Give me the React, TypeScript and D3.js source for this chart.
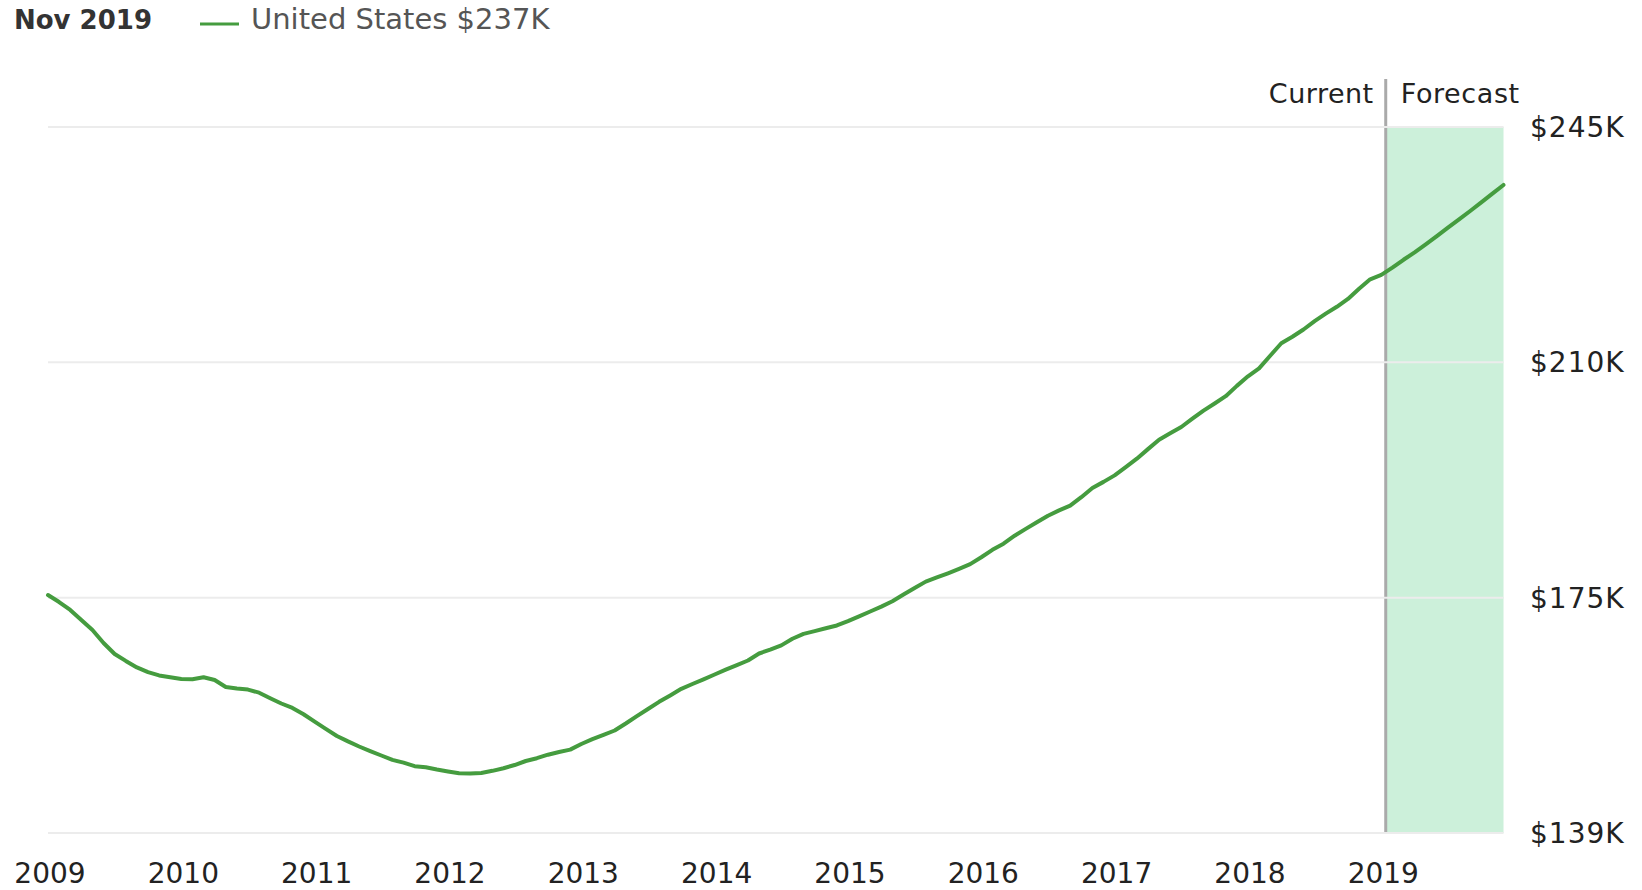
import React from "react";
import * as d3 from "d3";

// ---- data (home value index, $K, monthly from Jan 2009) ----
const startYear = 2009;
const homeValues: number[] = [
  175.0, 173.95, 172.76, 171.26, 169.76, 167.82, 166.18, 165.14, 164.16, 163.47, 162.97, 162.7,
  162.44, 162.39, 162.69, 162.29, 161.24, 161.0, 160.85, 160.39, 159.56, 158.77, 158.1, 157.16,
  156.05, 154.97, 153.91, 153.1, 152.34, 151.65, 150.99, 150.33, 149.92, 149.39, 149.23, 148.9,
  148.61, 148.34, 148.3, 148.37, 148.7, 149.09, 149.57, 150.17, 150.59, 151.11, 151.52, 151.87,
  152.71, 153.43, 154.07, 154.73, 155.78, 156.89, 157.95, 159.02, 159.98, 160.97, 161.69, 162.39,
  163.11, 163.83, 164.51, 165.2, 166.25, 166.83, 167.46, 168.45, 169.18, 169.6, 170.02, 170.44,
  171.1, 171.81, 172.53, 173.26, 174.07, 175.07, 176.05, 177.0, 177.62, 178.25, 178.92, 179.62,
  180.65, 181.76, 182.67, 183.87, 184.89, 185.89, 186.86, 187.65, 188.36, 189.63, 191.01, 191.92,
  192.89, 194.12, 195.39, 196.82, 198.23, 199.19, 200.13, 201.37, 202.58, 203.64, 204.74, 206.28,
  207.71, 208.9, 210.79, 212.65, 213.62, 214.71, 215.97, 217.08, 218.11, 219.28, 220.82, 222.22,
  222.87, 223.96, 225.14, 226.25, 227.44, 228.68, 229.94, 231.18, 232.44, 233.73, 235.03, 236.33,
];
const yearTicks: number[] = [2009, 2010, 2011, 2012, 2013, 2014, 2015, 2016, 2017, 2018, 2019];
const yTicks: number[] = [139.4, 174.6, 209.8, 245];
const currentMonth = 120.4; // months after Jan 2009 where the forecast begins
const headerDate = "Nov 2019";
const seriesName = "United States";
const seriesLabelValue = 237;

const W = 1642;
const H = 890;
const FONT = "'DejaVu Sans', sans-serif";

export default function App() {
  const x = d3.scaleLinear().domain([0, homeValues.length - 1]).range([48, 1503.5]);
  const y = d3.scaleLinear().domain([139.4, 245]).range([833, 127]);
  const line = d3
    .line<number>()
    .x((_, i) => x(i))
    .y((d) => y(d))
    .curve(d3.curveLinear);

  const green = "#459c3f";
  const xEnd = x(homeValues.length - 1);
  const xCur = x(currentMonth);

  return (
    <div style={{ position: "absolute", left: 0, top: 0 }}>
      <svg width={W} height={H} style={{ display: "block", background: "#fff" }}>
        {/* header */}
        <text x={14} y={29} fontFamily={FONT} fontWeight="bold" fontSize={26} fill="#333">
          {headerDate}
        </text>
        <line x1={200} x2={239} y1={24} y2={24} stroke={green} strokeWidth={3} />
        <text x={251} y={29} fontFamily={FONT} fontSize={29} fill="#555">
          {`${seriesName} $${seriesLabelValue}K`}
        </text>

        {/* forecast band */}
        <rect x={xCur} y={y(245)} width={xEnd - xCur} height={y(139.4) - y(245)} fill="#ccf0da" />
        {/* current divider */}
        <line x1={xCur} x2={xCur} y1={79} y2={y(139.4)} stroke="#aaaaaa" strokeWidth={3} />
        <text
          x={xCur - 12}
          y={103}
          textAnchor="end"
          fontFamily={FONT}
          fontSize={27}
          letterSpacing={0.5}
          fill="#222"
        >
          Current
        </text>
        <text
          x={xCur + 15}
          y={103}
          textAnchor="start"
          fontFamily={FONT}
          fontSize={27}
          letterSpacing={0.6}
          fill="#222"
        >
          Forecast
        </text>

        {/* gridlines */}
        {yTicks.map((t) => (
          <line key={t} x1={48} x2={xEnd} y1={y(t)} y2={y(t)} stroke="#ececec" strokeWidth={2} />
        ))}

        {/* y labels */}
        {yTicks.map((t) => (
          <text
            key={"l" + t}
            x={1530}
            y={y(t)}
            dy="0.36em"
            fontFamily={FONT}
            fontSize={28}
            letterSpacing={1}
            fill="#222"
          >
            {`$${Math.round(t)}K`}
          </text>
        ))}

        {/* x labels */}
        {yearTicks.map((yr) => (
          <text
            key={yr}
            x={x((yr - startYear) * 12) + 2}
            y={883}
            textAnchor="middle"
            fontFamily={FONT}
            fontSize={28}
            fill="#222"
          >
            {yr}
          </text>
        ))}

        {/* series */}
        <path
          d={line(homeValues) || ""}
          fill="none"
          stroke={green}
          strokeWidth={4}
          strokeLinejoin="round"
          strokeLinecap="round"
        />
      </svg>
    </div>
  );
}
